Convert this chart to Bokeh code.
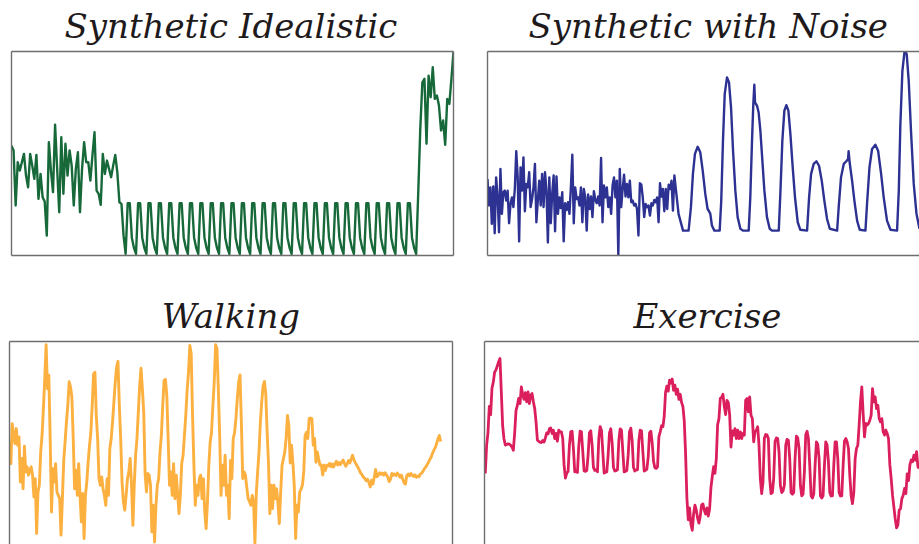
from bokeh.plotting import figure
from bokeh.layouts import column, row
from bokeh.models import Range1d, LinearAxis, FixedTicker
from bokeh.embed import file_html
from bokeh.resources import INLINE

# ---------------------------------------------------------------------------
# Signals (amplitude normalised to 0..100, one value per sample)
# ---------------------------------------------------------------------------

# Synthetic idealistic: irregular start, regular pulse train, irregular end
ideal_irregular = [
    53.5, 51.1, 23.9, 45.3, 41.2, 45.3, 49.4, 38.7, 32.9, 49.4,
    43.6, 37.1, 48.9, 27.2, 39.5, 28.0, 25.9, 9.0, 55.2, 41.2,
    30.5, 63.8, 42.0, 20.6, 57.6, 29.7, 54.4, 38.7, 51.1, 43.6,
    23.9, 42.0, 50.2, 20.6, 42.0, 55.2, 45.3, 45.3, 36.2, 48.6,
    60.1, 31.3, 29.7, 24.2, 49.4, 39.5, 46.1, 42.0, 37.9, 43.6,
    48.9, 40.3, 25.5, 24.7, 9.0,
]
ideal_pulses = [
    0, 25, 25, 8, 3, 0, 25, 25, 8, 3, 0, 25, 25, 8, 3, 0, 25, 25, 8, 3,
    0, 25, 25, 8, 3, 0, 25, 25, 8, 3, 0, 25, 25, 8, 3, 0, 25, 25, 8, 3,
    0, 25, 25, 8, 3, 0, 25, 25, 8, 3, 0, 25, 25, 8, 3, 0, 25, 25, 8, 3,
    0, 25, 25, 8, 3, 0, 25, 25, 8, 3, 0, 25, 25, 8, 3, 0, 25, 25, 8, 3,
    0, 25, 25, 8, 3, 0, 25, 25, 8, 3, 0, 25, 25, 8, 3, 0, 25, 25, 8, 3,
    0, 25, 25, 8, 3, 0, 25, 25, 8, 3, 0, 25, 25, 8, 3, 0, 25, 25, 8, 3,
    0, 25, 25, 8, 3, 0, 25, 25, 8, 3, 0, 25, 25, 8, 3, 0, 25, 25, 8, 3,
]
ideal_tail = [
    0, 30, 62, 84.8, 86.5, 54.4, 88.1, 77.4, 92.2, 76.6,
    78.2, 73.3, 61.0, 65.9, 53.9, 76.6, 74.1, 86.5, 100,
]

# Synthetic with noise: noisy segment sampled every step, then smooth peaks
noisy_irregular = [
    37.5, 24.5, 33.4, 15.5, 33.9, 10.9, 38.3, 28.9, 11.4, 42.4,
    20.4, 31.0, 31.8, 26.9, 31.8, 15.8, 25.3, 28.5, 23.7, 32.6,
    51.1, 38.3, 6.9, 43.2, 31.8, 48.1, 21.7, 35.1, 33.4, 40.8,
    23.7, 27.7, 33.4, 44.9, 16.3, 26.9, 36.7, 24.5, 40.0, 23.7,
    40.8, 32.1, 6.4, 38.3, 15.8, 30.2, 39.2, 11.9, 38.7, 20.4,
    28.5, 23.3, 31.0, 6.9, 25.6, 22.3, 26.1, 20.4, 33.4, 49.4,
    15.8, 33.4, 27.7, 28.5, 24.5, 33.4, 16.3, 32.6, 28.5, 12.2,
    29.9, 22.8, 28.9, 18.8, 31.5, 27.2, 25.6, 28.9, 24.5, 47.8,
    16.3, 34.3, 28.5, 33.4, 23.7, 28.5, 20.4, 34.3, 38.3, 28.5,
    36.7, 0.0, 42.4, 23.7, 32.6, 39.6, 28.9, 35.1, 28.5, 36.7,
    26.1, 26.9, 24.5, 25.3, 22.8, 9.8, 35.4, 34.7, 28.5, 18.8,
    25.3, 23.7, 24.5, 19.6, 25.6, 24.5, 27.2, 26.1, 28.5, 16.3,
    35.4, 28.9, 32.6, 21.7, 32.6, 22.8, 34.7, 32.6, 36.7, 22.0,
    39.2,
]
noisy_peaks_t = [
    132.9, 136.0, 139.9, 141.5, 142.9, 144.3, 146.2, 148.0, 149.7, 151.5,
    153.1, 154.1, 155.0, 156.1, 157.8, 161.5, 162.6, 163.8, 165.0, 166.6,
    168.0, 169.4, 170.8, 172.4, 174.0, 175.9, 177.7, 181.7, 182.8, 184.0,
    184.9, 185.6, 186.1, 187.5, 188.6, 189.8, 191.2, 192.6, 194.4, 196.3,
    197.9, 202.6, 203.7, 205.1, 206.5, 207.9, 209.3, 210.7, 212.3, 213.9,
    215.8, 217.6, 222.3, 223.7, 225.1, 226.9, 228.8, 230.6, 232.5, 234.3,
    236.2, 238.1, 243.2, 244.3, 245.9, 247.8, 249.6, 250.8, 251.2, 251.9,
    253.6, 255.2, 257.1, 258.9, 262.9, 264.0, 265.7, 267.5, 269.8, 271.7,
    273.8, 275.6, 277.9, 280.3, 284.9, 286.1, 287.2, 288.6, 290.0, 290.7,
    291.6, 293.0, 294.7, 296.5, 298.4, 300.5,
]
noisy_peaks_v = [
    20.4, 12.2, 12.2, 23.7, 40.0, 49.8, 53.3, 50.6, 41.6, 30.2,
    22.8, 21.7, 20.4, 14.7, 12.2, 12.2, 26.9, 56.3, 79.1, 87.3,
    84.8, 72.6, 51.4, 31.8, 18.8, 13.1, 12.2, 12.2, 28.5, 56.3,
    74.2, 83.7, 75.0, 73.4, 70.1, 61.2, 46.5, 31.8, 18.8, 13.1,
    12.2, 12.2, 30.2, 56.3, 71.0, 73.7, 71.0, 59.5, 43.2, 28.5,
    16.3, 12.6, 12.2, 28.5, 40.0, 44.9, 46.2, 44.0, 36.7, 26.9,
    17.9, 13.1, 12.2, 23.7, 38.3, 44.9, 46.2, 47.3, 51.1, 45.7,
    36.7, 26.9, 17.1, 12.6, 12.2, 25.3, 43.2, 52.2, 54.3, 51.4,
    40.0, 28.5, 17.1, 12.6, 12.2, 31.8, 64.4, 90.5, 99.5, 100,
    98.7, 85.6, 59.5, 35.1, 20.4, 13.1,
]

# Walking: stride peaks followed by a quieter stretch
walking = [
    50.4, 39.7, 59.4, 53.7, 49.6, 57.0, 48.8, 52.9, 30.6, 42.2,
    27.3, 48.3, 35.6, 38.1, 34.0, 36.4, 38.1, 34.0, 23.2, 32.3,
    5.2, 25.7, 29.0, 45.4, 53.6, 66.8, 81.6, 98.4, 76.7, 83.3,
    52.1, 15.8, 37.2, 30.6, 39.7, 25.7, 24.0, 22.4, 4.4, 22.4,
    41.3, 50.4, 60.3, 68.5, 80.1, 77.6, 72.6, 52.1, 27.3, 36.4,
    24.0, 39.7, 24.0, 10.9, 24.9, 2.7, 24.0, 30.6, 40.4, 48.6,
    55.2, 68.4, 83.9, 84.8, 63.5, 52.1, 32.3, 29.0, 33.1, 27.3,
    24.0, 19.1, 32.3, 24.0, 47.1, 52.1, 60.3, 70.2, 80.1, 87.4,
    90.2, 68.4, 52.1, 30.6, 20.8, 16.7, 24.0, 32.3, 35.6, 42.2,
    29.0, 9.2, 29.0, 43.8, 52.1, 65.0, 78.2, 86.8, 76.7, 65.0,
    34.8, 25.7, 34.8, 34.0, 29.0, 6.0, 19.1, 1.0, 19.1, 29.0,
    32.3, 45.4, 53.6, 68.4, 80.8, 81.3, 73.4, 52.1, 29.0, 35.6,
    24.0, 39.7, 22.4, 34.0, 24.9, 15.0, 24.0, 39.7, 43.8, 53.6,
    63.5, 75.9, 84.8, 98.0, 93.9, 63.5, 38.9, 19.1, 29.0, 24.0,
    32.3, 34.0, 22.4, 32.3, 15.8, 7.6, 20.8, 38.9, 50.4, 55.2,
    68.4, 80.1, 98.4, 96.4, 76.7, 53.6, 24.0, 38.9, 29.0, 43.8,
    24.0, 29.0, 12.5, 41.3, 32.3, 52.1,
    55, 62, 71.8, 80, 83.5, 60, 32.3, 35.6, 34.0, 28,
    22.4, 21, 19.1, 24.0, 20.8, 0.5, 25, 35.6, 45.4, 60,
    70, 78, 80.3, 74, 55, 40, 15.0, 29.0, 17.5, 29.0,
    22.4, 27.3, 20, 10.1, 25.7, 38.9, 42, 45.4, 52.1, 63.5,
    58.6, 40, 48.8, 40, 29.0, 2.7, 19.1, 15.8, 25.7, 27,
    29.0, 35.6, 53.6, 55.2, 52.1, 61.9, 62.2, 61.9, 48.8, 52.1,
    40.4, 45.4, 42, 38.9, 39, 34.0, 38.9, 36.4, 38.9,
    38.5, 39.8, 38.2, 39.5, 38.0, 39.6, 40.8, 39.0, 40.2, 39.2,
    40.5, 41.5, 39.8, 38.4, 39.6, 41.2, 40.0, 42.0, 43.8, 41.5,
    40.2, 39.0, 37.8, 36.5, 35.0, 34.2, 33.0, 32.4, 31.2, 32.0,
    30.4, 28.2, 31.5, 29.6, 33.0, 36.8, 33.2, 34.0, 35.2, 34.4,
    35.0, 34.0, 35.2, 34.2, 33.0, 30.8, 32.0, 34.8, 34.0, 34.6,
    33.8, 35.0, 34.2, 33.0, 34.0, 32.0, 30.2, 29.6, 33.8, 34.5,
    33.6, 34.8, 34.0, 33.4, 34.2, 33.0, 33.6, 33.2, 34.6, 35.0,
    36.0, 37.2, 38.0, 39.2, 40.4, 41.8, 43.0, 44.8, 46.4, 47.6,
    49.6, 52.0, 53.6, 50.6,
]

# Exercise: two sets of repetitions between effort bursts
exercise = [
    35.0, 49, 55, 68, 64, 77, 80, 85, 86, 88,
    90, 91.6, 75, 58.5, 52, 49, 49.2, 49.6, 49.5, 48.9,
    48, 46.4, 55, 66, 68.5, 72, 69.4, 77.6, 74, 71.5,
    74.8, 70.3, 75.2, 69.4, 73.5, 74.4, 70.3, 67.0, 60.4, 51.5,
    50.8, 50.4, 50.2, 51.2, 50.5, 52.5, 55.0, 54.5, 57.0, 57.4,
    54.7, 56.3, 52.2, 54.7, 50.9, 56.3, 55.5, 55.5, 52.2, 39.2,
    32.7, 35.2, 36.0, 48.9, 55.5, 55.8, 47.2, 35.8, 36.0, 35.5,
    48.5, 55.8, 55.5, 45.8, 36.2, 36.0, 36.4, 44.0, 55.0, 56.0,
    49.0, 38.0, 36.5, 36.8, 35.8, 52.0, 58.1, 56.3, 45.8, 35.2,
    35.6, 35.8, 44.0, 55.0, 57.0, 50.0, 38.0, 36.2, 36.4, 36.8,
    51.0, 57.0, 56.3, 45.8, 35.8, 36.0, 36.4, 44.0, 55.5, 57.3,
    51.0, 38.0, 36.2, 36.8, 36.8, 51.0, 56.3, 56.0, 45.8, 36.2,
    36.6, 37.0, 43.0, 55.0, 55.8, 50.0, 41.0, 37.8, 37.5, 38.3,
    53.0, 55.5, 58.5, 58.0, 63.0, 75.0, 78.0, 75.5, 81.0, 79.5,
    81.5, 76.0, 78.5, 74.0, 76.5, 71.5, 74.0, 70.0, 68.0, 61.0,
    45.0, 22.8, 12.2, 18.0,
    10, 7.0, 15, 19.4, 17, 13, 10.5, 14, 19.4, 20,
    17, 15, 18, 14, 17.5, 28, 33.5, 38.3, 35, 42,
    59, 62, 72, 72.5, 74, 68, 64, 71, 70, 64,
    48, 56, 53.9, 57.1, 52.2, 56.3, 52.2, 55.5, 52.2, 54.7,
    53.9, 71.1, 71.9, 65.3, 72.7, 63.7, 62.1, 50.6, 55.5, 56.3,
    58.0, 48.9, 32.5, 25.1, 30.8, 52.2, 54.2, 54.0, 52.2, 32.5,
    25.1, 25.6, 32.5, 50.6, 52.5, 52.2, 45.5, 29.2, 25.6, 26.4,
    29.2, 48.9, 51.8, 51.3, 42.3, 25.6, 24.8, 25.6, 42.3, 53.4,
    52.5, 47.3, 29.2, 24.0, 24.8, 35.8, 54.2, 55.8, 52.2, 39.0,
    24.0, 22.9, 24.8, 39.0, 50.6, 49.3, 42.3, 24.0, 22.9, 24.0,
    39.0, 50.6, 49.0, 40.7, 25.6, 23.9, 24.0, 39.0, 50.6, 50.6,
    42.3, 25.6, 23.9, 24.0, 39.0, 50.9, 52.2, 50.6, 47.3, 34.0,
    24.0, 20.1, 25.6, 42.3, 47.3, 48.9, 58.8, 70.3, 77.6, 64.5,
    53.0, 59.6, 58.8, 59.6, 61.2, 63.7, 76.8, 70.3, 72.7, 67.0,
    68.6, 62.1, 60.4, 62.0, 55.5, 53.9, 56.3, 54.7, 52.2, 39.2,
    32.5, 24.3, 18.5, 12.8, 8.2, 9.5, 16.9, 17.7, 22.6, 24.3,
    27.6, 25.1, 34.8, 31.5, 39.2, 41.6, 40.8, 44.0, 41.5, 45.7,
    38.3, 37.5,
]

titles = ["Synthetic Idealistic", "Synthetic with Noise", "Walking", "Exercise"]
colors = ["#17693a", "#2c3192", "#fbb040", "#db1f5c"]

BORDER = "#6e6e6e"
TITLE_FONT = "DejaVu Serif"


def border_axis():
    return LinearAxis(
        ticker=FixedTicker(ticks=[]),
        axis_line_color=BORDER, axis_line_width=1.4,
        major_tick_line_color=None, minor_tick_line_color=None,
        major_tick_in=0, major_tick_out=0, minor_tick_in=0, minor_tick_out=0,
        major_label_text_font_size="0px", major_label_standoff=0,
    )


def panel(title, xs, ys, x_range, y_range, color, width, height, borders,
          mb_left, mb_right, mb_top, mb_bottom, lw, title_left=None):
    p = figure(width=width, height=height, output_backend="svg",
               toolbar_location=None, x_axis_location=None, y_axis_location=None,
               x_range=x_range, y_range=y_range,
               min_border_left=mb_left, min_border_right=mb_right,
               min_border_top=mb_top, min_border_bottom=mb_bottom)
    p.grid.visible = False
    p.outline_line_color = None
    p.background_fill_color = "white"
    p.border_fill_color = "white"

    p.title.text = title
    if title_left is None:
        p.title.align = "center"
    else:
        p.title.align = "left"
        p.title.offset = title_left
    p.title.vertical_align = "top"
    p.title.standoff = 8
    p.title.text_font = TITLE_FONT
    p.title.text_font_style = "italic"
    p.title.text_font_size = "34px"
    p.title.text_color = "#1e1a1b"

    for side in borders:
        p.add_layout(border_axis(), side)
    p.line(xs, ys, line_color=color, line_width=lw, line_join="round")
    return p


ideal = ideal_irregular + ideal_pulses + ideal_tail
p1 = panel(titles[0], list(range(len(ideal))), ideal,
           Range1d(0, len(ideal) - 1), Range1d(-0.8, 100), colors[0],
           470, 290, ["left", "right", "above", "below"], 11, 17, 51, 35, 2.4,
           title_left=53)

noisy_t = list(range(len(noisy_irregular))) + noisy_peaks_t
noisy_v = noisy_irregular + noisy_peaks_v
p2 = panel(titles[1], noisy_t, noisy_v,
           Range1d(0, noisy_peaks_t[-1]), Range1d(0, 100), colors[1],
           449, 290, ["left", "above", "below"], 17, 0, 51, 35, 2.4,
           title_left=41)

p3 = panel(titles[2], list(range(len(walking))), walking,
           Range1d(0, 326.7), Range1d(-0.25, 100), colors[2],
           470, 254, ["left", "right", "above"], 9, 18, 51, 0, 2.9)

p4 = panel(titles[3], list(range(len(exercise))), exercise,
           Range1d(-0.6, len(exercise) - 0.8), Range1d(0, 100), colors[3],
           449, 254, ["left", "above"], 14, 0, 51, 0, 2.8,
           title_left=149)

layout = column(row(p1, p2), row(p3, p4))

open("out.html", "w").write(file_html(layout, INLINE))
